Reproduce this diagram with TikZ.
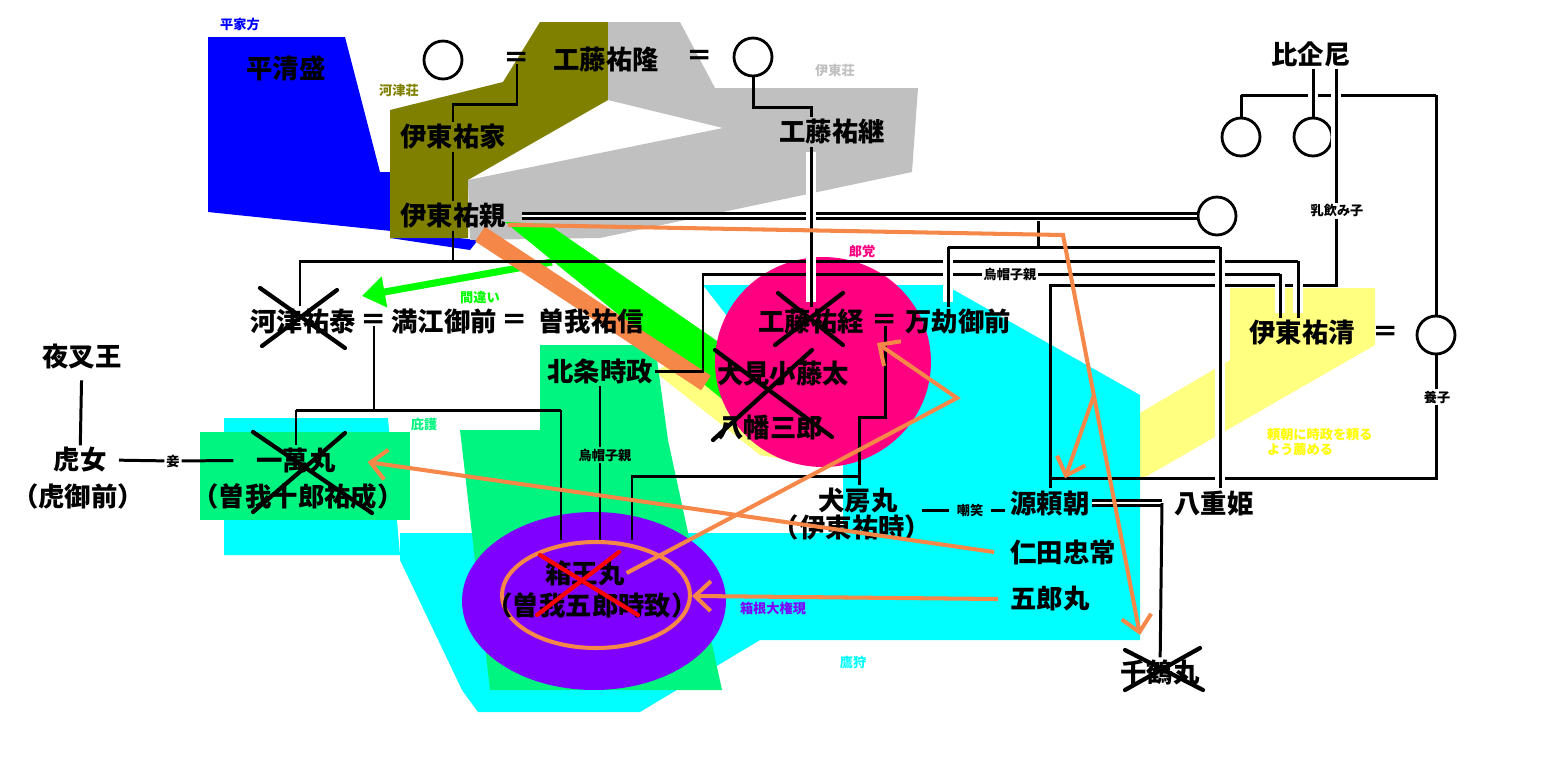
\documentclass[tikz,border=0pt]{standalone}
\usepackage{fontspec}
\setmainfont{Noto Sans CJK JP}
\usepackage{xcolor}
\definecolor{colHeike}{RGB}{0,0,255}
\definecolor{colKawazu}{RGB}{128,128,0}
\definecolor{colItou}{RGB}{192,192,192}
\definecolor{colKill}{RGB}{0,255,0}
\definecolor{colOrange}{RGB}{245,135,72}
\definecolor{colRodo}{RGB}{255,0,128}
\definecolor{colTaka}{RGB}{0,255,255}
\definecolor{colAdvise}{RGB}{255,255,128}
\definecolor{colNote}{RGB}{255,255,0}
\definecolor{colHigo}{RGB}{0,245,128}
\definecolor{colHakone}{RGB}{128,0,255}
\usetikzlibrary{arrows.meta, shapes.geometric, calc}

\begin{document}
\begin{tikzpicture}[x=0.02cm, y=-0.02cm,
    nm/.style={font=\bfseries\fontsize{15}{17}\selectfont, inner sep=1pt},
    sm/.style={font=\bfseries\fontsize{7.5}{9}\selectfont, inner sep=1pt},
    eqs/.style={font=\bfseries\fontsize{15}{17}\selectfont, inner sep=0pt},
    wife/.style={circle, draw, line width=1.6pt, minimum size=0.76cm, inner sep=0pt},
    ln/.style={line width=1.7pt},
    br/.style={ln, preaction={draw=white, line width=6pt, shorten <=3pt, shorten >=3pt}},
    dbl/.style={double, double distance=1.6pt, line width=1.5pt},
    cross/.style={line width=2.4pt, line cap=round},
    hit/.style={colOrange, line width=2.3pt, -{Straight Barb[length=9pt, width=17pt]}}
  ]
  \useasboundingbox (0,0) rectangle (1556,769);

  % ===== territories and groups =====
  \fill[colHeike] (208,37) -- (345,37) -- (380,172) -- (390,172) -- (390,238)
    -- (470,250) -- (478,240) -- (208,212) -- cycle;
  \fill[colKawazu] (390,110) -- (503,82) -- (540,22) -- (608,22) -- (608,100)
    -- (468,180) -- (468,238) -- (390,238) -- cycle;
  \fill[colItou] (608,22) -- (680,22) -- (715,88) -- (918,88) -- (912,172)
    -- (600,238) -- (470,240) -- (468,180) -- (600,153) -- (723,128) -- (608,100) -- cycle;
  \fill[colAdvise] (655,372) -- (700,345) -- (1140,413) -- (1230,360) -- (1230,288)
    -- (1375,288) -- (1375,345) -- (1140,480) -- (900,470) -- (800,462) -- (760,455) -- cycle;
  \fill[colTaka] (224,418) -- (388,418) -- (400,555) -- (224,555) -- cycle;
  \fill[colTaka] (703,285) -- (945,285) -- (1140,395) -- (1140,640) -- (760,640)
    -- (640,712) -- (478,712) -- (462,690) -- (400,560) -- (400,533) -- (843,533)
    -- (843,465) -- cycle;
  \fill[colHigo] (200,432) rectangle (410,520);
  \fill[colHigo] (540,345) -- (655,345) -- (668,440) -- (722,690) -- (490,690)
    -- (460,430) -- (540,430) -- cycle;
  \fill[colKill] (505,222) -- (548,224) -- (762,372) -- (738,412) -- cycle;
  \draw[colKill, line width=4pt, -{Triangle[length=13pt, width=17pt]}]
    (552,262) -- (362,296);
  \draw[colOrange, line width=10pt] (480,234) -- (706,383);
  \fill[colRodo] (823,362) ellipse (2.16cm and 2.1cm);
  \fill[colHakone] (594,601) ellipse (2.64cm and 1.78cm);
  \node[draw=colOrange, line width=2.3pt, ellipse, minimum width=3.76cm,
    minimum height=2.12cm] (oring) at (596,595) {};

  % ===== people =====
  \node[nm] (kiyomori)  at (286,68)  {平清盛};
  \node[wife] (c1) at (443,60) {};
  \node[eqs] (eq1) at (517,60) {＝};
  \node[nm] (takataka)  at (606,60)  {工藤祐隆};
  \node[eqs] (eq2) at (700,58) {＝};
  \node[wife] (c2) at (753,57) {};
  \node[nm] (sukeie)    at (453,137) {伊東祐家};
  \node[nm] (suketsugu) at (832,132) {工藤祐継};
  \node[nm] (hikini)    at (1311,54) {比企尼};
  \node[wife] (c3) at (1241,137) {};
  \node[wife] (c4) at (1313,137) {};
  \node[nm] (sukechika) at (453,216) {伊東祐親};
  \node[wife] (c5) at (1217,216) {};
  \node[nm] (sukeyasu)  at (303,321) {河津祐泰};
  \node[eqs] (eq3) at (374,322) {＝};
  \node[nm] (mangoe)    at (444,321) {満江御前};
  \node[eqs] (eq4) at (515,322) {＝};
  \node[nm] (sukenobu)  at (591,321) {曽我祐信};
  \node[nm] (suketsune) at (811,322) {工藤祐経};
  \node[eqs] (eq5) at (885,322) {＝};
  \node[nm] (mangou)    at (958,322) {万劫御前};
  \node[nm] (sukekiyo)  at (1302,333) {伊東祐清};
  \node[eqs] (eq6) at (1386,334) {＝};
  \node[wife] (c6) at (1436,335) {};
  \node[nm] (yashao)    at (82,357)  {夜叉王};
  \node[nm] (tokimasa)  at (600,371) {北条時政};
  \node[nm] (omi)       at (783,374) {大見小藤太};
  \node[nm] (yawata)    at (770,427) {八幡三郎};
  \node[nm] (torame)    at (80,460)  {虎女};
  \node[nm] (torame2)   at (78,496)  {（虎御前）};
  \node[nm] (ichiman)   at (296,460) {一萬丸};
  \node[nm] (ichiman2)  at (298,496) {（曽我十郎祐成）};
  \node[nm] (inubou)    at (858,500) {犬房丸};
  \node[nm] (inubou2)   at (852,527) {（伊東祐時）};
  \node[nm] (yoritomo)  at (1050,503) {源頼朝};
  \node[nm] (yaehime)   at (1214,503) {八重姫};
  \node[nm] (nitta)     at (1063,552) {仁田忠常};
  \node[nm] (goromaru)  at (1050,599) {五郎丸};
  \node[nm] (hakoo)     at (585,573) {箱王丸};
  \node[nm] (hakoo2)    at (592,605) {（曽我五郎時致）};
  \node[nm] (senzuru)   at (1160,672) {千鶴丸};

  % ===== small labels =====
  \node[sm, text=colHeike]  at (240,25)  {平家方};
  \node[sm, text=colKawazu] at (399,90)  {河津荘};
  \node[sm, text=colItou]   at (835,71)  {伊東荘};
  \node[sm, text=colRodo]   at (862,251) {郎党};
  \node[sm, text=colKill]   at (480,297) {間違い};
  \node[sm, text=colHigo]   at (424,425) {庇護};
  \node[sm, text=colHakone] at (773,608) {箱根大権現};
  \node[sm, text=colTaka]   at (853,663) {鷹狩};
  \node[sm, text=colNote, align=left, anchor=west] at (1265,442)
    {頼朝に時政を頼る\\よう薦める};
  \node[sm] (milk)    at (1337,211) {乳飲み子};
  \node[sm] (eboshi1) at (1010,274) {烏帽子親};
  \node[sm] (eboshi2) at (605,455)  {烏帽子親};
  \node[sm] (adopt)   at (1437,397) {養子};
  \node[sm] (mekake)  at (173,461)  {妾};
  \node[sm] (chosho)  at (970,510)  {嘲笑};

  % ===== junctions =====
  \coordinate (ca) at (300,261);  \coordinate (cb) at (1298,261);
  \coordinate (ma) at (948,247);  \coordinate (mb) at (1220,247);
  \coordinate (mc) at (1038,247);
  \coordinate (eba) at (703,274); \coordinate (ebb) at (1280,274);
  \coordinate (nma) at (1336,285); \coordinate (nmb) at (1050,285);
  \coordinate (hka) at (1241,95); \coordinate (hkb) at (1436,95);
  \coordinate (ysa) at (1436,478);
  \coordinate (ka) at (296,410);  \coordinate (kb) at (561,410);
  \coordinate (ia) at (859,417);  \coordinate (ib) at (859,476);
  \coordinate (ic) at (632,476);
  \coordinate (yy) at (1162,503);

  % ===== family lines =====
  \draw[ln] ($(eq1.center)+(0,4)$) |- ($(sukeie.north)+(0,-18)$) -- (sukeie.north);
  \draw[ln] (c2) |- ($(suketsune |- suketsugu.north)+(0,-10)$) -- (suketsune |- suketsugu.north);
  \draw[ln] (sukeie) -- (sukechika);
  \draw[dbl] ([xshift=8pt]sukechika.east) -- (c5);
  \draw[ln] ($(mc |- c5)+(0,5)$) -- (mc);
  \draw[ln] (ma) -- (mb);
  \draw[ln] (sukechika) -- (sukechika |- ca);
  \draw[ln] (sukeyasu.north -| ca) -- (ca) -- (cb);
  \draw[ln] (tokimasa.east) -| (eba) -- (eba -| eboshi1.west);
  \draw[ln] (eboshi1.east |- eba) -- (ebb);
  \draw[ln] (nma |- milk.south) -- (nma) -- (nmb) -- (nmb |- yoritomo.north);
  \draw[ln] (hka) -- (hkb);
  \draw[ln] (c3) -- (hka);
  \draw[ln] (hkb) -- (c6);
  \draw[ln] (c6 |- adopt.south) -- (ysa) -- (nmb |- ysa);
  \draw[ln] (c6) -- (c6 |- adopt.north);
  \draw[br] (hikini.south -| c4) -- (c4);
  \draw[br] (hikini.south -| nma) -- (nma |- milk.north);
  \draw[br] (suketsune |- suketsugu.south) -- (suketsune);
  \draw[br] (ma) -- (ma |- mangou.north);
  \draw[br] (mb) -- (mb |- yaehime.north);
  \draw[br] (ebb) -- (ebb |- sukekiyo.north);
  \draw[br] (cb) -- (cb |- sukekiyo.north);
  \draw[ln] ($(eq3.center)+(0,4)$) -- (eq3 |- ka);
  \draw[ln] (ka) -- (kb);
  \draw[ln] (ka) -- (ichiman);
  \draw[ln] (kb) -- (kb |- oring.north);
  \draw[ln] (tokimasa) -- (tokimasa |- eboshi2.north);
  \draw[ln] (tokimasa |- eboshi2.south) -- (tokimasa |- oring.north);
  \draw[ln] ($(eq5.center)+(0,4)$) |- (ia) -- (ia |- inubou.north);
  \draw[ln] (ib) -- (ic) -- (ic |- oring.north);
  \draw[ln, shorten <=5pt] (yashao) -- (torame);
  \draw[ln, shorten <=6pt] (torame.east) -- (mekake);
  \draw[ln, shorten >=12pt] (mekake) -- (ichiman);
  \draw[ln, shorten <=13pt, shorten >=3pt] (inubou.east |- chosho) -- (chosho);
  \draw[ln, shorten <=3pt, shorten >=2pt] (chosho) -- (yoritomo.west |- chosho);
  \draw[dbl] (yoritomo.east) -- (yy);
  \draw[ln] (yy) -- (senzuru);

  % ===== orange arrows =====
  \coordinate (ob) at (1063,235); \coordinate (oc) at (1094,395);
  \coordinate (ot) at (1140,635); \coordinate (pa) at (957,398);
  \coordinate (pt) at (877,343);
  \draw[hit] ([yshift=-5pt]sukechika.east) -- (ob) -- (ot);
  \draw[hit] (oc) -- ($(yoritomo.north)+(15,-10)$);
  \draw[hit] ([xshift=-6pt]goromaru.west) -- (oring);
  \draw[hit] ([xshift=-8pt]nitta.west) -- ($(ichiman.east)+(30,2)$);
  \draw[hit] (hakoo.east) -- (pa) -- (pt);

  % ===== killed =====
  \draw[cross] (260,288) -- (345,348);  \draw[cross] (337,290) -- (262,346);
  \draw[cross] (778,293) -- (843,345);  \draw[cross] (843,293) -- (775,345);
  \draw[cross] (715,350) -- (832,437);  \draw[cross] (812,350) -- (713,440);
  \draw[cross] (253,432) -- (372,513);  \draw[cross] (345,433) -- (253,512);
  \draw[cross] (1125,650) -- (1203,690); \draw[cross] (1200,648) -- (1125,690);
  \draw[cross, red] (540,555) -- (638,615); \draw[cross, red] (619,552) -- (537,615);
\end{tikzpicture}
\end{document}
